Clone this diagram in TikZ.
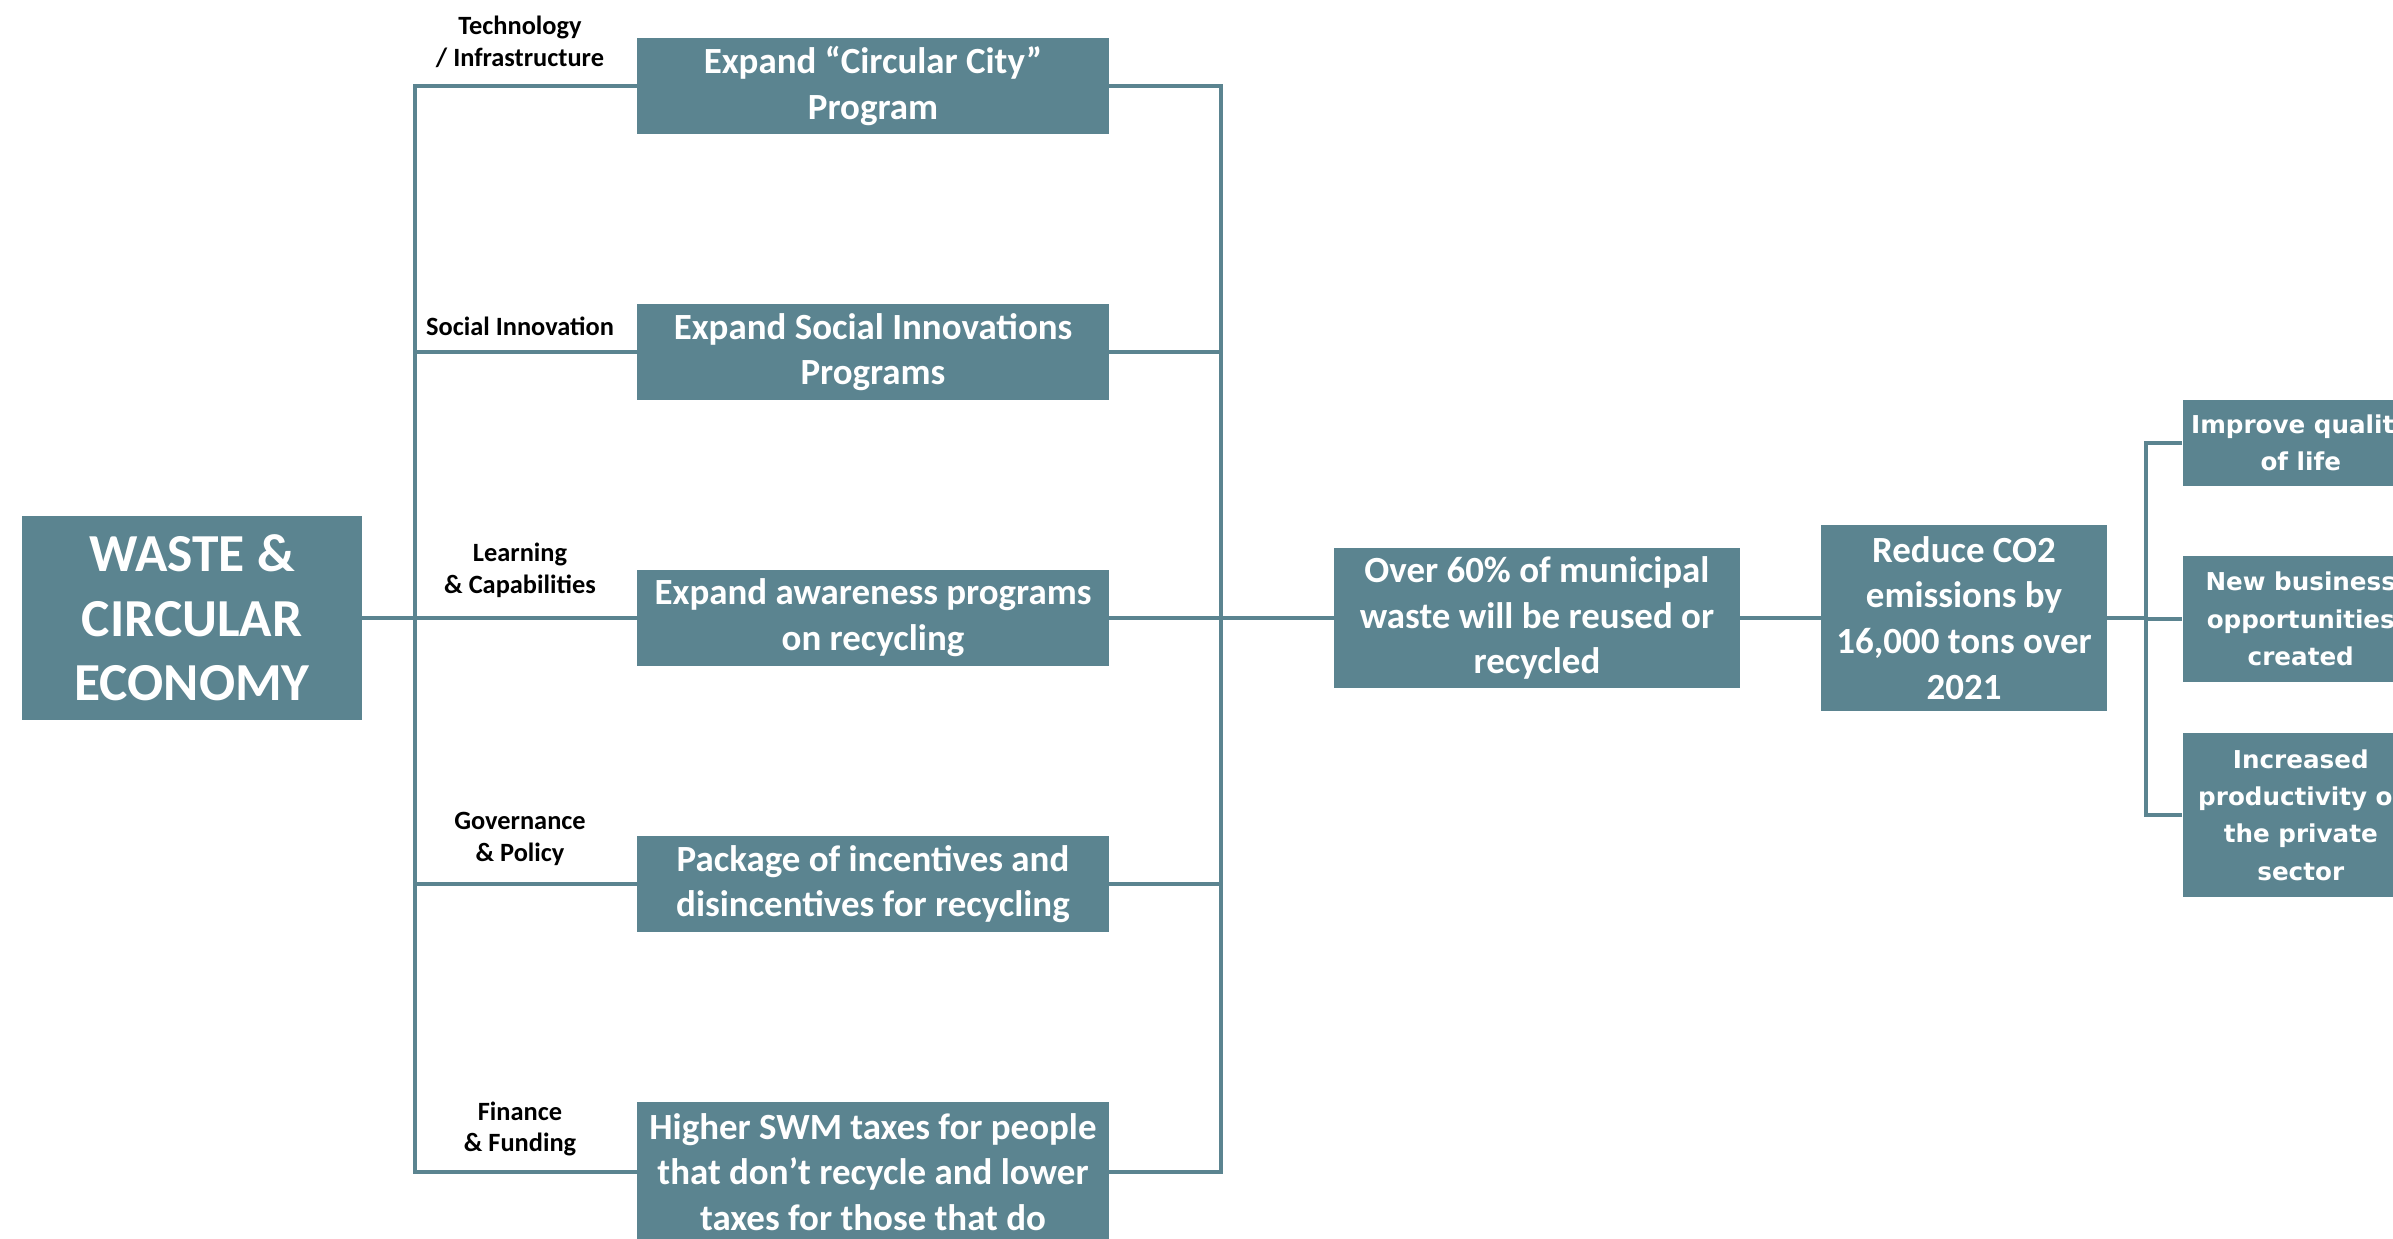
\documentclass[tikz,border=0pt]{standalone}
\usepackage{fontspec}
\setmainfont{Carlito}
\newfontfamily\dejavu{DejaVu Sans}
\usepackage{tikz}
\definecolor{wastecol}{RGB}{91,132,144}
\tikzset{
  box/.style={fill=wastecol, text=white, align=center, inner sep=0pt,
    font=\bfseries\fontsize{10.5}{13}\selectfont},
  mainbox/.style={box, minimum width=3.39cm, minimum height=2.04cm,
    font=\bfseries\fontsize{15.2}{18.4}\selectfont},
  planbox/.style={box, minimum width=4.71cm, minimum height=0.96cm},
  outbox/.style={box, anchor=west, minimum width=2.36cm,
    font=\dejavu\bfseries\fontsize{7}{10.6}\selectfont},
  tag/.style={anchor=south, align=center, inner sep=0pt,
    font=\bfseries\fontsize{7.5}{9}\selectfont},
  bus/.style={draw=wastecol, line width=1.2pt},
}
\begin{document}
\begin{tikzpicture}[x=0.01cm, y=-0.01cm]
\useasboundingbox (0,0) rectangle (2393,1238);
% main topic
\node[mainbox] (main) at (192,618) {WASTE \&\\CIRCULAR\\ECONOMY};
% bus points
\coordinate (lbus) at (415,618);
\coordinate (rbus) at (1221,618);
\coordinate (obus) at (2146,618);
% actions
\node[planbox] (tech) at (873,86) {Expand “Circular City”\\Program};
\node[planbox] (social) at (873,352) {Expand Social Innovations\\Programs};
\node[planbox] (learn) at (873,618) {Expand awareness programs\\on recycling};
\node[planbox] (gov) at (873,884) {Package of incentives and\\disincentives for recycling};
\node[planbox, minimum height=1.4cm] (fin) at (873,1172) {Higher SWM taxes for people\\that don’t recycle and lower\\taxes for those that do};
% pillar labels
\node[tag] (ltech) at (520,68) {Technology\\/ Infrastructure};
\node[tag] (lsocial) at (520,336) {Social Innovation};
\node[tag] (llearn) at (520,598) {Learning\\\& Capabilities};
\node[tag] (lgov) at (520,866) {Governance\\\& Policy};
\node[tag] (lfin) at (520,1157) {Finance\\\& Funding};
% results
\node[box, minimum width=4.05cm, minimum height=1.39cm] (waste) at (1537,618) {Over 60\% of municipal\\waste will be reused or\\recycled};
\node[box, minimum width=2.85cm, minimum height=1.85cm] (co2) at (1964,618) {Reduce CO2\\emissions by\\16,000 tons over\\2021};
\node[outbox, minimum height=0.85cm] (life) at (2182,443) {Improve quality\\of life};
\node[outbox, minimum height=1.25cm] (biz) at (2182,619) {New business\\opportunities\\created};
\node[outbox, minimum height=1.64cm] (prod) at (2182,815) {Increased\\productivity of\\the private\\sector};
% connectors
\draw[bus] (main.east) -- (lbus);
\foreach \n in {tech,social,learn,gov,fin}
  \draw[bus] (\n.west) -| (lbus) (\n.east) -| (rbus);
\draw[bus] (rbus) -- (waste.west);
\draw[bus] (waste.east) -- (co2.west);
\draw[bus] (co2.east) -- (obus);
\foreach \n in {life,biz,prod}
  \draw[bus] (\n.west) -| (obus);
\end{tikzpicture}
\end{document}
